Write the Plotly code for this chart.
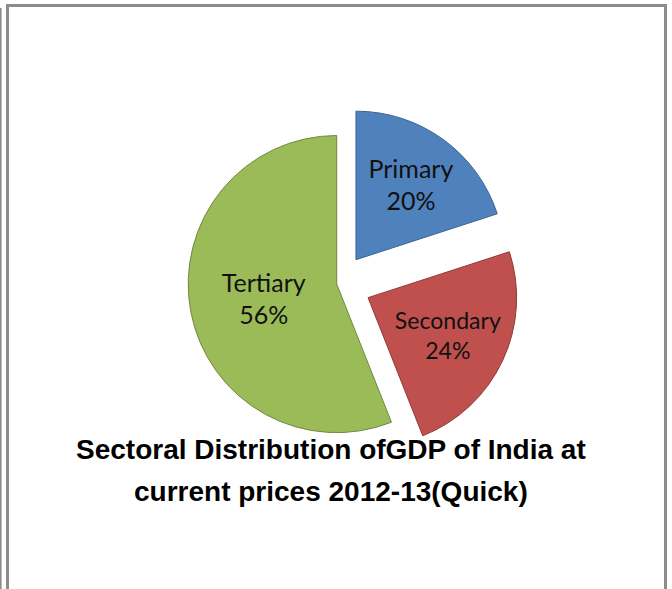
import plotly.graph_objects as go

sectors = ["Primary", "Secondary", "Tertiary"]
shares = [20, 24, 56]
pulls = [0.2, 0.22, 0.012]
colors = ["#4F81BD", "#C0504D", "#9BBB59"]
edge_colors = ["#3A6396", "#8E3A38", "#71893F"]
title_lines = ["Sectoral Distribution ofGDP of India at", "current prices 2012-13(Quick)"]

W, H = 672, 589

fig = go.Figure(go.Pie(
    labels=sectors,
    values=shares,
    sort=False,
    direction="clockwise",
    rotation=0,
    pull=pulls,
    marker=dict(colors=colors, line=dict(color=edge_colors, width=1)),
    texttemplate="%{label}<br>%{percent:.0%}",
    textposition="inside",
    insidetextorientation="horizontal",
    textfont=dict(family="Lato, Liberation Sans, sans-serif", size=25, color="#111111"),
    showlegend=False,
    hoverinfo="label+percent",
    domain=dict(x=[156 / W, 521 / W], y=[1 - 465 / H, 1 - 102.5 / H]),
))

annotations = []
for line, cy in zip(title_lines, [449, 491]):
    annotations.append(dict(
        text="<b>" + line + "</b>",
        x=331 / W, y=1 - cy / H, xref="paper", yref="paper",
        xanchor="center", yanchor="middle", showarrow=False,
        font=dict(family="Liberation Sans, Arial, sans-serif", size=28, color="#000000"),
    ))

fig.update_layout(
    width=W,
    height=H,
    margin=dict(l=0, r=0, t=0, b=0),
    paper_bgcolor="white",
    plot_bgcolor="white",
    annotations=annotations,
    shapes=[
        dict(type="rect", xref="paper", yref="paper",
             x0=7.5 / W, x1=665.5 / W, y0=-0.05, y1=1 - 5.5 / H,
             line=dict(color="#8c8c8c", width=3), fillcolor="rgba(0,0,0,0)"),
        dict(type="line", xref="paper", yref="paper",
             x0=0.8 / W, x1=0.8 / W, y0=0, y1=1 - 8 / H,
             line=dict(color="#8c8c8c", width=1.6)),
    ],
)

fig.write_html("out.html", config={"displayModeBar": False},
               post_script="document.body.style.margin='0';")
